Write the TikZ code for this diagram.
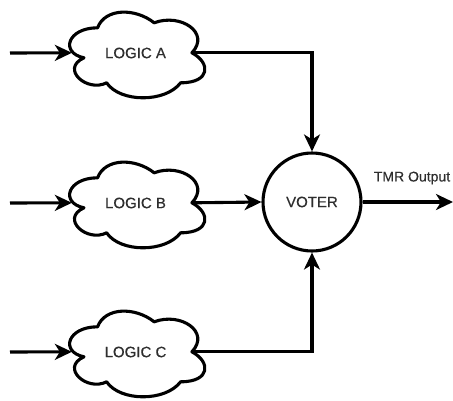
\documentclass[tikz,border=0pt]{standalone}
\usepackage{fontspec}
\setmainfont[FakeBold=0.5]{Liberation Sans}
\usetikzlibrary{arrows.meta}
\definecolor{txt}{HTML}{2E2E2E}
\tikzset{
  wire/.style={line width=3.1pt},
  conn/.style={wire, -{Stealth[length=17pt,width=16pt,inset=5pt]}},
  lbl/.style={font=\fontsize{15}{15}\selectfont, text=txt},
  logic/.style={lbl, minimum width=151pt, minimum height=100pt, inner sep=0pt},
  cloudline/.style={line width=3.1pt, line join=round, fill=white},
}
\newcommand\mycloud[1]{%
  \begin{scope}[shift={(#1.north west)}, x=151pt, y=-100pt]
    \draw[cloudline] (0.25,0.25) .. controls (0.05,0.25) and (0,0.5) .. (0.16,0.55)
      .. controls (0,0.66) and (0.18,0.9) .. (0.31,0.8)
      .. controls (0.4,1) and (0.7,1) .. (0.8,0.8)
      .. controls (1,0.8) and (1,0.6) .. (0.875,0.5)
      .. controls (1,0.3) and (0.8,0.1) .. (0.625,0.2)
      .. controls (0.5,0.05) and (0.3,0.05) .. (0.25,0.25) -- cycle;
    \coordinate (#1-in) at (0.08,0.5);
    \coordinate (#1-out) at (0.88,0.5);
  \end{scope}
  \node[lbl] at (#1) {\csname cloudtext#1\endcsname};
}
\expandafter\def\csname cloudtexta\endcsname{LOGIC A}
\expandafter\def\csname cloudtextb\endcsname{LOGIC B}
\expandafter\def\csname cloudtextc\endcsname{LOGIC C}
\begin{document}
\begin{tikzpicture}[x=1pt, y=-1pt]
  \useasboundingbox (0,0) rectangle (453,400);
  \node[logic] (a) at (135.5,53) {};
  \node[logic] (b) at (135.5,203) {};
  \node[logic] (c) at (135.5,352) {};
  \coordinate (ina) at (10,53);
  \coordinate (inb) at (10,203);
  \coordinate (inc) at (10,352);
  \coordinate (outend) at (453,202);
  \mycloud{a}
  \mycloud{b}
  \mycloud{c}
  \node[lbl, draw=black, line width=3.1pt, circle, minimum size=98pt, inner sep=0pt] (voter) at (312,202) {VOTER};
  \draw[conn] (ina) -- (a-in);
  \draw[conn] (inb) -- (b-in);
  \draw[conn] (inc) -- (c-in);
  \draw[conn] (a-out) -| (voter.north);
  \draw[conn] (b-out) -- (voter.west);
  \draw[conn] (c-out) -| (voter.south);
  \draw[conn] (voter.east) -- (outend);
  \node[lbl, font=\fontsize{14}{14}\selectfont] (tmr) at (412,178) {TMR Output};
\end{tikzpicture}
\end{document}
